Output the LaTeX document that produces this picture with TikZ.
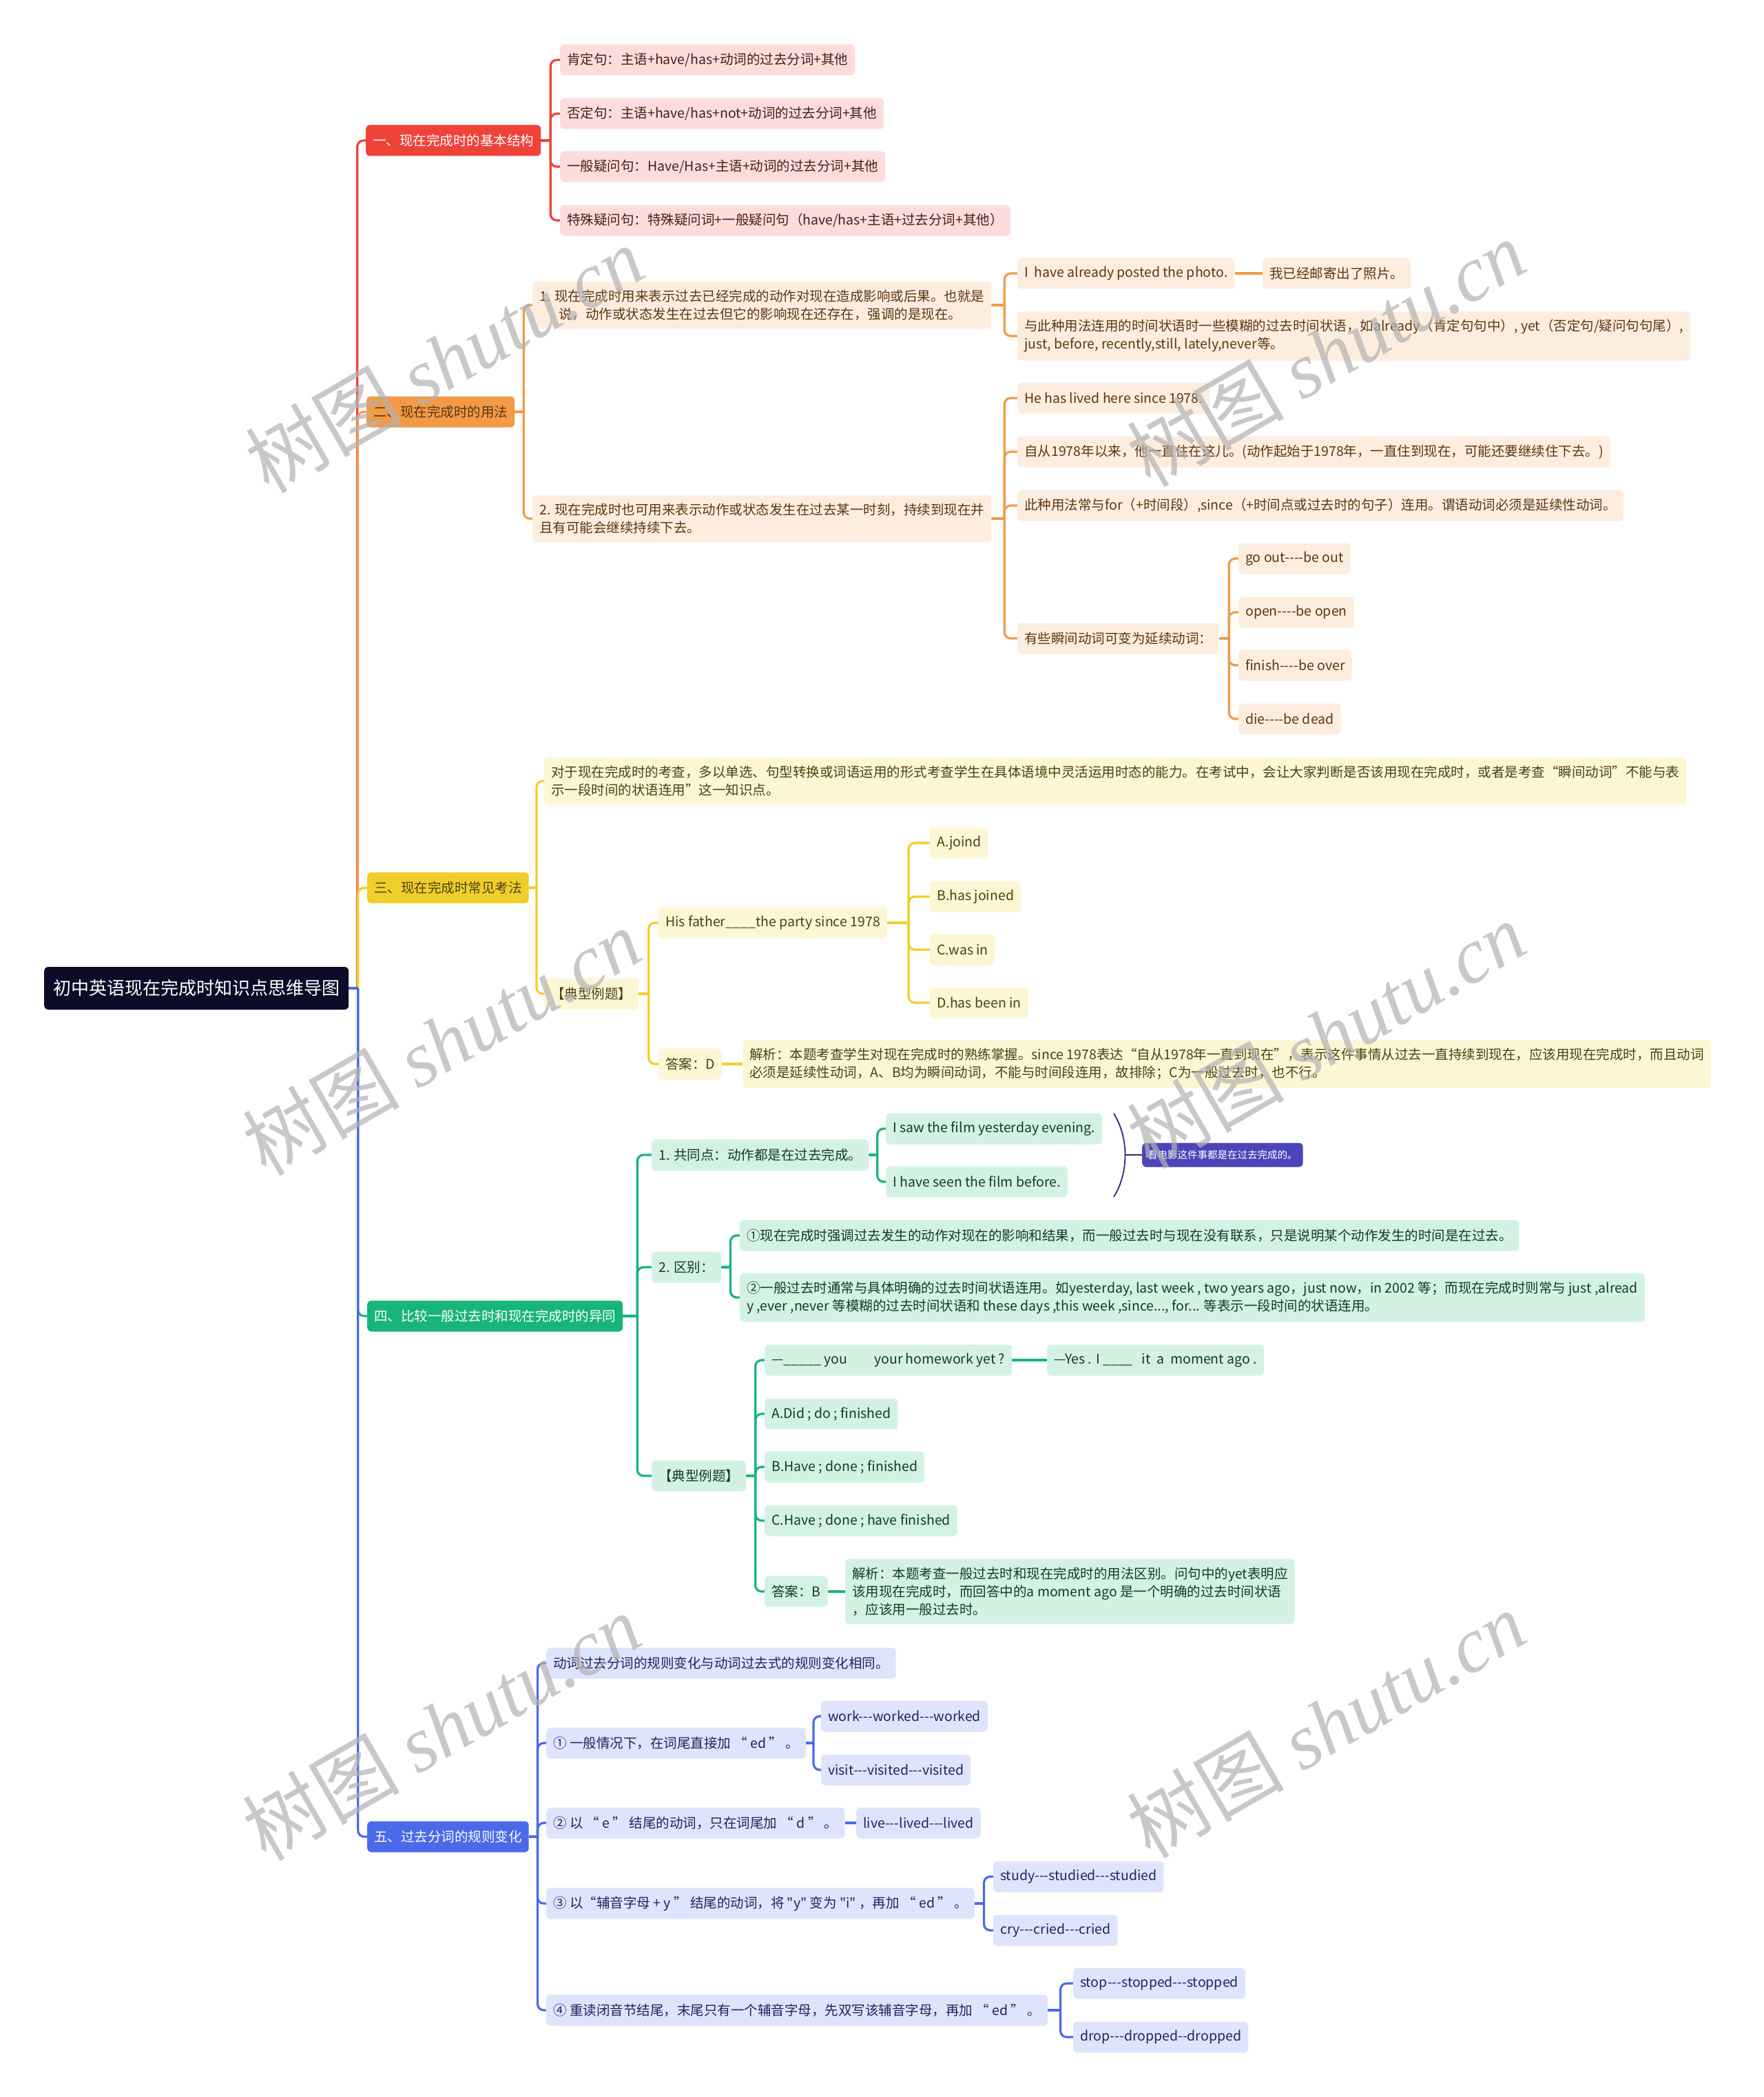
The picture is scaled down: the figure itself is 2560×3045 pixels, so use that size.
\documentclass[tikz,border=0pt]{standalone}
\usepackage{fontspec}
\setmainfont{Noto Sans CJK SC}[Ligatures=TeXOff]
\newfontfamily\wmlat{Liberation Serif}[Ligatures=TeXOff]
\usetikzlibrary{calc}
\pgfdeclarelayer{bg}
\pgfsetlayers{bg,main}
\definecolor{cR}{HTML}{EF4238}
\definecolor{cRl}{HTML}{FDDDDC}
\definecolor{cRt}{HTML}{4A1C18}
\definecolor{cO}{HTML}{F29A47}
\definecolor{cOl}{HTML}{FDEDDE}
\definecolor{cOt}{HTML}{5A3712}
\definecolor{cY}{HTML}{F1CF2A}
\definecolor{cYl}{HTML}{FCF6D5}
\definecolor{cYt}{HTML}{4A4210}
\definecolor{cG}{HTML}{18B57B}
\definecolor{cGl}{HTML}{D3F2E4}
\definecolor{cGt}{HTML}{123A2A}
\definecolor{cB}{HTML}{4A6AE9}
\definecolor{cBl}{HTML}{DEE4FB}
\definecolor{cBt}{HTML}{1D2660}
\definecolor{rootc}{HTML}{0C0B2A}
\definecolor{cP}{HTML}{4B45BA}
\definecolor{cPb}{HTML}{2C2A7E}
\newcommand\fs{\fontsize{19.5}{26}\selectfont}
\newcommand\br[3]{%
  \coordinate (tmpE) at ($(#2.east)!0.5!(#2.east -| #3.west)$);
  \draw[#1] (#2.east) -- (tmpE);
  \draw[#1,rounded corners=9pt] (tmpE) |- (#3.west);}
\newcommand\lk[3]{\draw[#1] (#2.east) -- (#3.west);}
\tikzset{
  nd/.style={rounded corners=6pt, inner xsep=10pt, inner ysep=12pt, minimum height=45pt, anchor=west, align=left, font=\fs},
  rootbox/.style={rounded corners=6pt, fill=rootc, text=white, inner xsep=13pt, minimum height=62pt, anchor=west, font=\fontsize{26}{30}\selectfont},
  mred/.style={nd, fill=cR, text=white},
  morg/.style={nd, fill=cO, text=cOt},
  myel/.style={nd, fill=cY, text=cYt},
  mgrn/.style={nd, fill=cG, text=white},
  mblu/.style={nd, fill=cB, text=white},
  redleaf/.style={nd, fill=cRl, text=cRt},
  orgleaf/.style={nd, fill=cOl, text=cOt},
  yelleaf/.style={nd, fill=cYl, text=cYt},
  grnleaf/.style={nd, fill=cGl, text=cGt},
  bluleaf/.style={nd, fill=cBl, text=cBt},
  lnR/.style={draw=cR, line width=3.2pt},
  lnO/.style={draw=cO, line width=3.2pt},
  lnY/.style={draw=cY, line width=3.2pt},
  lnG/.style={draw=cG, line width=3.2pt},
  lnB/.style={draw=cB, line width=3.2pt},
  wm/.style={text=black!30, text opacity=0.7, font=\fontsize{114}{114}\selectfont, rotate=30, inner sep=0pt},
}
\begin{document}
\begin{tikzpicture}[x=1pt,y=-1pt]
\useasboundingbox (0,0) rectangle (2560,3045);
% root
\node[rootbox] (root) at (64,1435) {初中英语现在完成时知识点思维导图};
% main branches
\node[mred] (b1) at (531,204) {一、现在完成时的基本结构};
\node[morg] (b2) at (532,598) {二、现在完成时的用法};
\node[myel] (b3) at (533,1289) {三、现在完成时常见考法};
\node[mgrn] (b4) at (533,1911) {四、比较一般过去时和现在完成时的异同};
\node[mblu] (b5) at (533,2667) {五、过去分词的规则变化};
% red
\node[redleaf] (r1) at (813,87) {肯定句：主语+have/has+动词的过去分词+其他};
\node[redleaf] (r2) at (813,165) {否定句：主语+have/has+not+动词的过去分词+其他};
\node[redleaf] (r3) at (813,242) {一般疑问句：Have/Has+主语+动词的过去分词+其他};
\node[redleaf] (r4) at (813,320) {特殊疑问句：特殊疑问词+一般疑问句（have/has+主语+过去分词+其他）};
% orange
\node[orgleaf] (o1) at (773,443) {1. 现在完成时用来表示过去已经完成的动作对现在造成影响或后果。也就是\\\hspace*{28pt}说，动作或状态发生在过去但它的影响现在还存在，强调的是现在。};
\node[orgleaf] (o11) at (1477,397) {I\ \ have already posted the photo.};
\node[orgleaf] (o11b) at (1833,397) {我已经邮寄出了照片。};
\node[orgleaf] (o12) at (1477,488) {与此种用法连用的时间状语时一些模糊的过去时间状语，如already（肯定句句中）, yet（否定句/疑问句句尾）,\\just, before, recently,still, lately,never等。};
\node[orgleaf] (o2) at (773,753) {2. 现在完成时也可用来表示动作或状态发生在过去某一时刻，持续到现在并\\且有可能会继续持续下去。};
\node[orgleaf] (o21) at (1477,578) {He has lived here since 1978.};
\node[orgleaf] (o22) at (1477,656) {自从1978年以来，他一直住在这儿。(动作起始于1978年，一直住到现在，可能还要继续住下去。)};
\node[orgleaf] (o23) at (1477,734) {此种用法常与for（+时间段）,since（+时间点或过去时的句子）连用。谓语动词必须是延续性动词。};
\node[orgleaf] (o24) at (1477,927) {有些瞬间动词可变为延续动词：};
\node[orgleaf] (o241) at (1798,811) {go out----be out};
\node[orgleaf] (o242) at (1798,889) {open----be open};
\node[orgleaf] (o243) at (1798,966) {finish----be over};
\node[orgleaf] (o244) at (1798,1044) {die----be dead};
% yellow
\node[yelleaf] (y1) at (790,1134) {对于现在完成时的考查，多以单选、句型转换或词语运用的形式考查学生在具体语境中灵活运用时态的能力。在考试中，会让大家判断是否该用现在完成时，或者是考查“瞬间动词”不能与表\\示一段时间的状语连用”这一知识点。};
\node[yelleaf] (y2) at (790,1443) {【典型例题】};
\node[yelleaf] (y21) at (956,1340) {His father\_\_\_\_the party since 1978};
\node[yelleaf] (y211) at (1350,1224) {A.joind};
\node[yelleaf] (y212) at (1350,1302) {B.has joined};
\node[yelleaf] (y213) at (1350,1379) {C.was in};
\node[yelleaf] (y214) at (1350,1456) {D.has been in};
\node[yelleaf] (y22) at (956,1545) {答案：D};
\node[yelleaf] (y22a) at (1078,1545) {解析：本题考查学生对现在完成时的熟练掌握。since 1978表达“自从1978年一直到现在”，表示这件事情从过去一直持续到现在，应该用现在完成时，而且动词\\必须是延续性动词，A、B均为瞬间动词，不能与时间段连用，故排除；C为一般过去时，也不行。};
% green
\node[grnleaf] (g1) at (946,1677) {1. 共同点：动作都是在过去完成。};
\node[grnleaf] (g11) at (1286,1639) {I saw the film yesterday evening.};
\node[grnleaf] (g12) at (1286,1716) {I have seen the film before.};
\node[nd, fill=cP, text=white, font=\fontsize{14.5}{18}\selectfont, minimum height=35pt, inner xsep=8pt, inner ysep=6pt] (gs) at (1658,1677) {看电影这件事都是在过去完成的。};
\node[grnleaf] (g2) at (946,1840) {2. 区别：};
\node[grnleaf] (g21) at (1074,1794) {①现在完成时强调过去发生的动作对现在的影响和结果，而一般过去时与现在没有联系，只是说明某个动作发生的时间是在过去。};
\node[grnleaf] (g22) at (1074,1884) {②一般过去时通常与具体明确的过去时间状语连用。如yesterday, last week , two years ago，just now，in 2002 等；而现在完成时则常与 just ,alread\\y ,ever ,never 等模糊的过去时间状语和 these days ,this week ,since..., for... 等表示一段时间的状语连用。};
\node[grnleaf] (g3) at (946,2143) {【典型例题】};
\node[grnleaf] (g31) at (1110,1975) {—\_\_\_\_\_ you\hspace{2em}your homework yet ?};
\node[grnleaf] (g31b) at (1520,1975) {—Yes . I \_\_\_\_\ \ \ it\ \ a\ \ moment ago .};
\node[grnleaf] (g32) at (1110,2053) {A.Did ; do ; finished};
\node[grnleaf] (g33) at (1110,2130) {B.Have ; done ; finished};
\node[grnleaf] (g34) at (1110,2208) {C.Have ; done ; have finished};
\node[grnleaf] (g35) at (1110,2311) {答案：B};
\node[grnleaf] (g35a) at (1227,2311) {解析：本题考查一般过去时和现在完成时的用法区别。问句中的yet表明应\\该用现在完成时，而回答中的a moment ago 是一个明确的过去时间状语\\，应该用一般过去时。};
% blue
\node[bluleaf] (u1) at (793,2415) {动词过去分词的规则变化与动词过去式的规则变化相同。};
\node[bluleaf] (u2) at (793,2531) {① 一般情况下，在词尾直接加 “ ed ” 。};
\node[bluleaf] (u21) at (1192,2492) {work---worked---worked};
\node[bluleaf] (u22) at (1192,2570) {visit---visited---visited};
\node[bluleaf] (u3) at (793,2647) {② 以 “ e ” 结尾的动词，只在词尾加 “ d ” 。};
\node[bluleaf] (u31) at (1243,2647) {live---lived---lived};
\node[bluleaf] (u4) at (793,2764) {③ 以“辅音字母 + y ” 结尾的动词，将 "y" 变为 "i" ，再加 “ ed ” 。};
\node[bluleaf] (u41) at (1442,2725) {study---studied---studied};
\node[bluleaf] (u42) at (1442,2803) {cry---cried---cried};
\node[bluleaf] (u5) at (793,2919) {④ 重读闭音节结尾，末尾只有一个辅音字母，先双写该辅音字母，再加 “ ed ” 。};
\node[bluleaf] (u51) at (1558,2880) {stop---stopped---stopped};
\node[bluleaf] (u52) at (1558,2958) {drop---dropped--dropped};
% bracket coordinates
\coordinate (bt) at (1617,1617);
\coordinate (bb) at (1617,1738);
\coordinate (bm) at (1633,1677);
\begin{pgfonlayer}{bg}
  \fill[white] (0,0) rectangle (2560,3045);
  \br{lnR}{root}{b1}
  \br{lnO}{root}{b2}
  \br{lnY}{root}{b3}
  \br{lnG}{root}{b4}
  \br{lnB}{root}{b5}
  \br{lnR}{b1}{r1} \br{lnR}{b1}{r2} \br{lnR}{b1}{r3} \br{lnR}{b1}{r4}
  \br{lnO}{b2}{o1} \br{lnO}{b2}{o2}
  \br{lnO}{o1}{o11} \br{lnO}{o1}{o12} \lk{lnO}{o11}{o11b}
  \br{lnO}{o2}{o21} \br{lnO}{o2}{o22} \br{lnO}{o2}{o23} \br{lnO}{o2}{o24}
  \br{lnO}{o24}{o241} \br{lnO}{o24}{o242} \br{lnO}{o24}{o243} \br{lnO}{o24}{o244}
  \br{lnY}{b3}{y1} \br{lnY}{b3}{y2}
  \br{lnY}{y2}{y21} \br{lnY}{y2}{y22}
  \br{lnY}{y21}{y211} \br{lnY}{y21}{y212} \br{lnY}{y21}{y213} \br{lnY}{y21}{y214}
  \lk{lnY}{y22}{y22a}
  \br{lnG}{b4}{g1} \br{lnG}{b4}{g2} \br{lnG}{b4}{g3}
  \br{lnG}{g1}{g11} \br{lnG}{g1}{g12}
  \br{lnG}{g2}{g21} \br{lnG}{g2}{g22}
  \br{lnG}{g3}{g31} \br{lnG}{g3}{g32} \br{lnG}{g3}{g33} \br{lnG}{g3}{g34} \br{lnG}{g3}{g35}
  \lk{lnG}{g31}{g31b} \lk{lnG}{g35}{g35a}
  \br{lnB}{b5}{u1} \br{lnB}{b5}{u2} \br{lnB}{b5}{u3} \br{lnB}{b5}{u4} \br{lnB}{b5}{u5}
  \br{lnB}{u2}{u21} \br{lnB}{u2}{u22}
  \lk{lnB}{u3}{u31}
  \br{lnB}{u4}{u41} \br{lnB}{u4}{u42}
  \br{lnB}{u5}{u51} \br{lnB}{u5}{u52}
  \draw[cPb, line width=1.8pt] (bt) .. controls (1639,1652) and (1639,1703) .. (bb);
  \draw[cPb, line width=1.8pt] (bm) -- (gs.west);
\end{pgfonlayer}
% watermarks
\node[wm] (w1) at (645,522) {树图 {\wmlat\itshape shutu.cn}};
\node[wm] (w2) at (1925,513) {树图 {\wmlat\itshape shutu.cn}};
\node[wm] (w3) at (641,1513) {树图 {\wmlat\itshape shutu.cn}};
\node[wm] (w4) at (1925,1503) {树图 {\wmlat\itshape shutu.cn}};
\node[wm] (w5) at (641,2508) {树图 {\wmlat\itshape shutu.cn}};
\node[wm] (w6) at (1925,2504) {树图 {\wmlat\itshape shutu.cn}};
\end{tikzpicture}
\end{document}
